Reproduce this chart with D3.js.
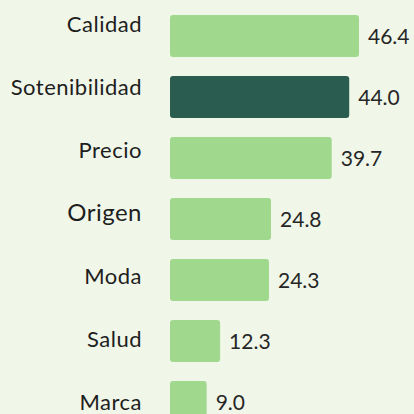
<!DOCTYPE html>
<html><head><meta charset="utf-8">
<script src="https://cdn.jsdelivr.net/npm/d3@7"></script>
<style>
html,body{margin:0;padding:0;background:#f0f6e8;}
svg{display:block;}
</style></head>
<body>
<script>
const categories = ["Calidad","Sotenibilidad","Precio","Origen","Moda","Salud","Marca"];
const values = [46.4, 44.0, 39.7, 24.8, 24.3, 12.3, 9.0];
const highlight = ["Sotenibilidad"];
const valueLabels = ["46.4","44.0","39.7","24.8","24.3","12.3","9.0"];

const W = 414, H = 414;
const svg = d3.select("body").append("svg").attr("width", W).attr("height", H);
svg.append("rect").attr("width", W).attr("height", H).attr("fill", "#f0f6e8");

const x = d3.scaleLinear().domain([0, 46.4]).range([170, 359]);
const y = d3.scaleBand().domain(categories).range([15, 423]).paddingInner(0.311).paddingOuter(0);
const yLab = d3.scalePoint().domain(categories).range([32, 410]);

const data = categories.map((c, i) => ({c, v: values[i], lab: valueLabels[i]}));

svg.selectAll("rect.bar").data(data).join("rect")
  .attr("class", "bar")
  .attr("x", x(0))
  .attr("y", d => y(d.c))
  .attr("width", d => x(d.v) - x(0))
  .attr("height", y.bandwidth())
  .attr("rx", 3)
  .attr("fill", d => highlight.includes(d.c) ? "#2a5d4f" : "#a0d98d");

svg.selectAll("text.val").data(data).join("text")
  .attr("class", "val")
  .attr("x", d => x(d.v) + 9)
  .attr("y", d => y(d.c) + y.bandwidth() / 2 + 8)
  .attr("font-family", "Lato")
  .attr("font-size", 21)
  .attr("fill", "#262626")
  .text(d => d.lab);

svg.selectAll("text.cat").data(data).join("text")
  .attr("class", "cat")
  .attr("x", 142)
  .attr("y", d => yLab(d.c))
  .attr("text-anchor", "end")
  .attr("font-family", "Lato")
  .attr("font-size", d => d.c === "Origen" ? 24 : 22)
  .attr("letter-spacing", 0.5)
  .attr("fill", "#1e1e1e")
  .text(d => d.c);
</script>
</body></html>
